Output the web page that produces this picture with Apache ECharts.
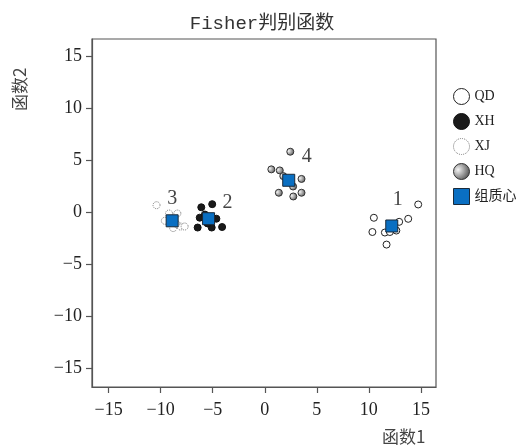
<!DOCTYPE html>
<html><head><meta charset="utf-8">
<script src="https://cdn.jsdelivr.net/npm/echarts@6/dist/echarts.min.js"></script>
<style>html,body{margin:0;padding:0;background:#fff}#c{width:525px;height:447px}</style>
</head><body><div id="c"></div>
<script>
// ---- data ----
const titleText = 'Fisher判别函数';
const xName = '函数1';
const yName = '函数2';
const xTicks = [-15, -10, -5, 0, 5, 10, 15];
const yTicks = [-15, -10, -5, 0, 5, 10, 15];
const seriesNames = ['QD', 'XH', 'XJ', 'HQ', '组质心'];
const qdPoints = [[14.74,0.77],[10.48,-0.51],[13.78,-0.61],[12.91,-0.9],[10.34,-1.88],[11.54,-1.93],[12.02,-1.88],[12.64,-1.74],[11.7,-3.09]];
const xhPoints = [[-6.1,0.5],[-5.05,0.8],[-6.25,-0.5],[-4.65,-0.6],[-6.45,-1.45],[-5.1,-1.45],[-4.1,-1.4],[-5.75,-0.2],[-5.5,-1.05]];
const xjPoints = [[-10.4,0.7],[-9.6,-0.8],[-9.2,-0.1],[-8.4,-0.1],[-8.8,-1.5],[-8.1,-1.35],[-7.7,-1.35],[-8.5,-1.1]];
const hqPoints = [[2.45,5.85],[0.63,4.15],[1.44,4.05],[1.78,3.5],[3.53,3.23],[2.72,2.5],[1.35,1.9],[2.74,1.54],[3.53,1.9]];
const centroidLabels = ['1', '2', '3', '4'];
const centroids = [[12.2,-1.3],[-5.4,-0.6],[-8.9,-0.8],[2.3,3.1]];

// ---- styles ----
const labelOffsets = [[6,-26],[19,-16],[0,-22],[18,-24]];
const serif = '"Liberation Serif", "Noto Sans CJK SC", serif';
const fmt = v => v < 0 ? '\u2212' + Math.abs(v) : String(v);
const hqGrad = {type:'radial', x:0.3, y:0.4, r:0.75, colorStops:[{offset:0,color:'#f4f4f4'},{offset:1,color:'#4a4a4a'}]};

const chart = echarts.init(document.getElementById('c'), null, {renderer:'canvas'});
const axisCommon = {
  type:'value',
  axisLine:{show:true, onZero:false, lineStyle:{color:'#555', width:1.2}},
  axisTick:{show:true, inside:false, length:6, lineStyle:{color:'#555', width:1.2}},
  splitLine:{show:false},
  axisLabel:{color:'#222', fontFamily:serif, fontSize:18, formatter:fmt}
};
chart.setOption({
  animation:false,
  backgroundColor:'#fff',
  title:{text:titleText, left:257, top:9, textAlign:'center',
    textStyle:{fontFamily:'"Liberation Mono", "Noto Sans CJK SC", monospace', fontWeight:'normal', fontSize:19, color:'#333'}},
  grid:{left:92, right:89, top:39, bottom:60, show:true, borderColor:'#555', borderWidth:1.2, backgroundColor:'transparent'},
  xAxis:Object.assign({}, axisCommon, {min:-16.6, max:16.45,
    axisTick:Object.assign({}, axisCommon.axisTick, {customValues:xTicks}),
    axisLabel:Object.assign({}, axisCommon.axisLabel, {customValues:xTicks, margin:14})}),
  yAxis:Object.assign({}, axisCommon, {min:-16.8, max:16.7,
    axisTick:Object.assign({}, axisCommon.axisTick, {customValues:yTicks}),
    axisLabel:Object.assign({}, axisCommon.axisLabel, {customValues:yTicks, margin:10})}),
  legend:{orient:'vertical', left:453, top:88, padding:0, itemWidth:16, itemHeight:16, itemGap:8,
    itemStyle:{borderWidth:1},
    textStyle:{fontFamily:serif, fontSize:14, color:'#222'},
    data:[
      {name:seriesNames[0], icon:'circle'},
      {name:seriesNames[1], icon:'circle'},
      {name:seriesNames[2], icon:'circle', itemStyle:{borderType:'dotted', borderColor:'#777', borderWidth:1}},
      {name:seriesNames[3], icon:'circle'},
      {name:seriesNames[4], icon:'rect'}
    ]},
  graphic:[
    {type:'text', left:382, top:428, style:{text:xName, font:'17px "Noto Sans CJK SC", "Liberation Serif"', fill:'#444'}},
    {type:'text', x:11, y:111, rotation:Math.PI/2, style:{text:yName, font:'17px "Noto Sans CJK SC", "Liberation Serif"', fill:'#444'}}
  ],
  series:[
    {name:seriesNames[0], type:'scatter', symbol:'circle', symbolSize:7, data:qdPoints,
      itemStyle:{color:'#fff', borderColor:'#222', borderWidth:1, opacity:1}},
    {name:seriesNames[1], type:'scatter', symbol:'circle', symbolSize:7, data:xhPoints,
      itemStyle:{color:'#1a1a1a', borderColor:'#111', borderWidth:1, opacity:1}},
    {name:seriesNames[2], type:'scatter', symbol:'circle', symbolSize:7, data:xjPoints,
      itemStyle:{color:'#fff', borderColor:'#777', borderWidth:1, borderType:'dotted', opacity:1}},
    {name:seriesNames[3], type:'scatter', symbol:'circle', symbolSize:7, data:hqPoints,
      itemStyle:{color:hqGrad, borderColor:'#333', borderWidth:1, opacity:1}},
    {name:seriesNames[4], type:'scatter', symbol:'rect', symbolSize:12, z:5,
      data:centroids.map((c,i)=>({value:c, name:centroidLabels[i],
        label:{show:true, formatter:centroidLabels[i], position:'inside', offset:labelOffsets[i]}})),
      label:{fontFamily:serif, fontSize:20, color:'#444'},
      itemStyle:{color:'#0a6fc2', borderColor:'#1a2a3a', borderWidth:1, opacity:1}}
  ]
});
</script></body></html>
